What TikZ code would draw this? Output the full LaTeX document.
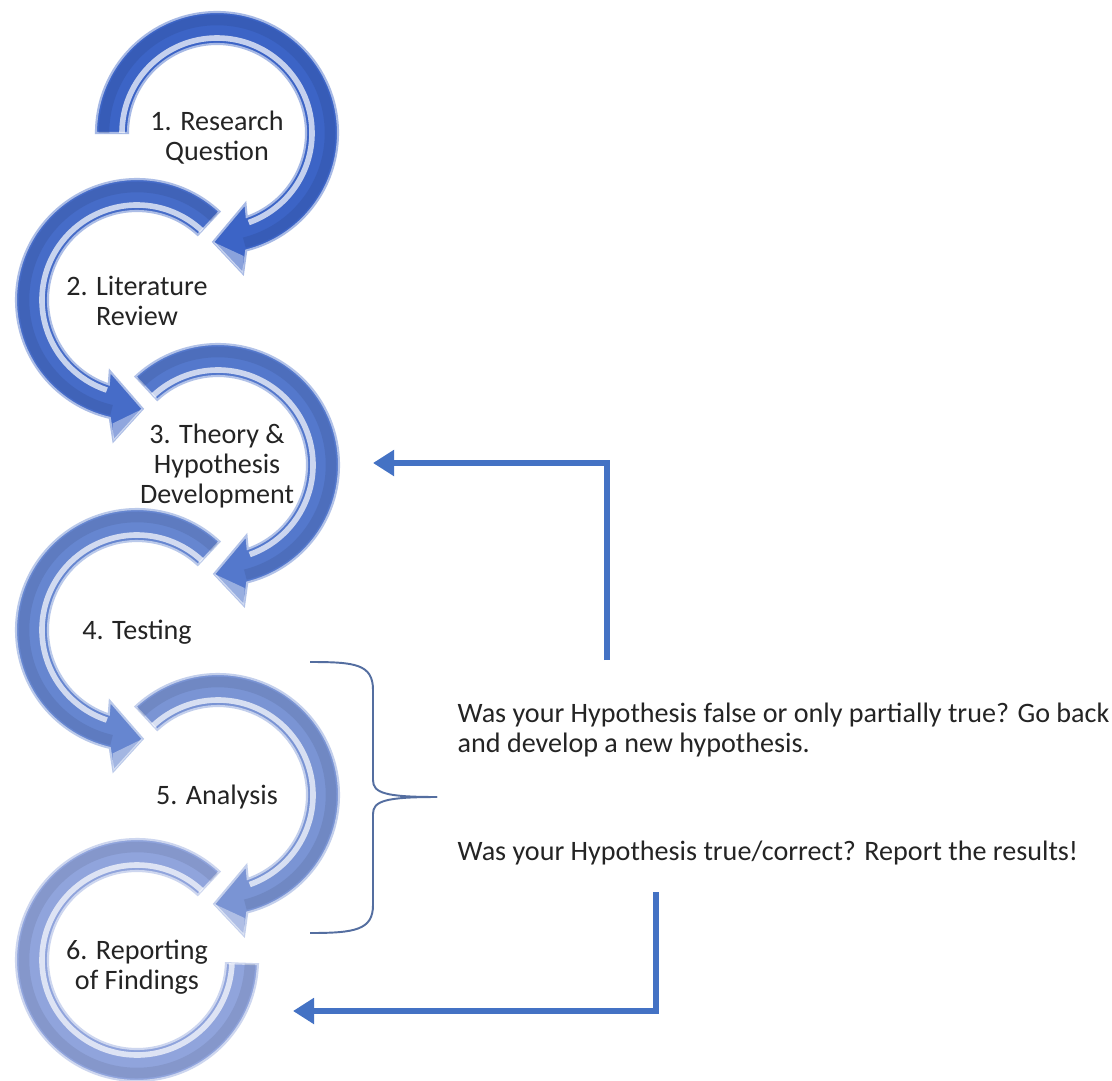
\documentclass[tikz,border=0pt]{standalone}
\usepackage{fontspec}
\setmainfont{Carlito}
\usetikzlibrary{arrows.meta,calc}
\definecolor{aone}{RGB}{60,100,198}
\definecolor{atwo}{RGB}{70,108,200}
\definecolor{athree}{RGB}{84,120,204}
\definecolor{afour}{RGB}{102,134,208}
\definecolor{afive}{RGB}{122,148,212}
\definecolor{asix}{RGB}{144,164,220}
\definecolor{conblue}{RGB}{68,114,196}
\definecolor{bracecol}{RGB}{84,110,160}
\definecolor{txt}{RGB}{36,36,36}
\def\Ro{1.21}\def\Ri{0.89}
\def\Rh{0.95}\def\Rd{1.13}
\newcommand{\circarrow}[6]{%
  \pgfmathsetmacro\aow{#4+#5*12.5}%
  \pgfmathsetmacro\aob{#4+#5*16}%
  \pgfmathsetmacro\aib{#4+#5*21.5}%
  \pgfmathsetmacro\aiw{#4+#5*24}%
  \begin{scope}[shift={(#1,#2)}]
    \fill[#6, draw=#6!45!white, line width=0.6pt]
      (#3:\Ro) arc[start angle=#3, end angle=\aob, radius=\Ro]
      -- (\aow:1.43) -- (#4:1.09) -- (\aiw:0.76) -- (\aib:\Ri)
      arc[start angle=\aib, end angle=#3, radius=\Ri] -- cycle;
    \draw[#6!70!black, line width=3pt, opacity=0.25]
      (#3:\Rd) arc[start angle=#3, end angle=\aob, radius=\Rd];
    \draw[white, line width=1.6pt, opacity=0.7]
      (#3:\Rh) arc[start angle=#3, end angle=\aib, radius=\Rh];
    \fill[white, opacity=0.4] (#4:1.09) -- (\aow:1.43) -- ($(\aow:1.43)!0.25!(\aiw:0.76)$) -- cycle;
  \end{scope}}
\newcommand{\circband}[5]{%
  \begin{scope}[shift={(#1,#2)}]
    \fill[#5, draw=#5!45!white, line width=0.6pt]
      (#3:\Ro) arc[start angle=#3, end angle=#4, radius=\Ro]
      -- (#4:\Ri) arc[start angle=#4, end angle=#3, radius=\Ri] -- cycle;
    \draw[#5!70!black, line width=3pt, opacity=0.25]
      (#3:\Rd) arc[start angle=#3, end angle=#4, radius=\Rd];
    \draw[white, line width=1.6pt, opacity=0.7]
      (#3:\Rh) arc[start angle=#3, end angle=#4, radius=\Rh];
  \end{scope}}
\tikzset{
  lab/.style={align=center, text=txt, inner sep=0pt, font=\fontsize{8pt}{8.5pt}\selectfont},
  rtext/.style={align=left, text=txt, inner sep=0pt, anchor=west, font=\fontsize{8pt}{8.6pt}\selectfont},
  conn/.style={draw=conblue, line width=1.45pt, -{Triangle[length=0.21cm,width=0.25cm]}},
  bracestyle/.style={draw=bracecol, line width=0.55pt}
}
\begin{document}
\begin{tikzpicture}
\useasboundingbox (0,0) rectangle (11.12,-10.80);
\fill[white] (0,0) rectangle (11.12,-10.80);
\begin{scope}
\clip (0,0) rectangle (11.12,-10.80);
\circband{1.37}{-9.60}{47}{358}{asix}
\circarrow{2.18}{-7.95}{133}{-92}{1}{afive}
\circarrow{1.37}{-6.30}{47}{273}{-1}{afour}
\circarrow{2.18}{-4.65}{133}{-92}{1}{athree}
\circarrow{1.37}{-3.00}{47}{273}{-1}{atwo}
\circarrow{2.17}{-1.33}{180}{-92}{1}{aone}
\end{scope}
% labels
\node[lab] (s1) at (2.17,-1.38) {1. Research\\Question};
\node[lab] (s2) at (1.37,-3.01) {2. Literature\\Review};
\node[lab] (s3) at (2.17,-4.66) {3. Theory \&\\Hypothesis\\Development};
\node[lab] (s4) at (1.37,-6.32) {4. Testing};
\node[lab] (s5) at (2.17,-7.97) {5. Analysis};
\node[lab] (s6) at (1.37,-9.67) {6. Reporting\\of Findings};
% brace
\coordinate (bracetip) at (4.37,-7.97);
\draw[bracestyle] (3.10,-6.62) .. controls (3.55,-6.62) and (3.73,-6.64) .. (3.73,-6.90)
  -- (3.73,-7.80) .. controls (3.73,-7.93) and (3.85,-7.97) .. (bracetip);
\draw[bracestyle] (bracetip) .. controls (3.85,-7.97) and (3.73,-8.01) .. (3.73,-8.14)
  -- (3.73,-9.05) .. controls (3.73,-9.30) and (3.55,-9.33) .. (3.10,-9.33);
% texts
\node[rtext] (qfalse) at (4.57,-7.30) {Was your Hypothesis false or only partially true? Go back\\and develop a new hypothesis.};
\node[rtext] (qtrue) at (4.57,-8.53) {Was your Hypothesis true/correct? Report the results!};
% connectors
\coordinate (fbstart) at (6.07,-6.60);
\coordinate (fbend) at (3.73,-4.63);
\draw[conn] (fbstart) |- (fbend);
\coordinate (rpstart) at (6.56,-8.92);
\coordinate (rpend) at (2.93,-10.11);
\draw[conn] (rpstart) |- (rpend);
\end{tikzpicture}
\end{document}
